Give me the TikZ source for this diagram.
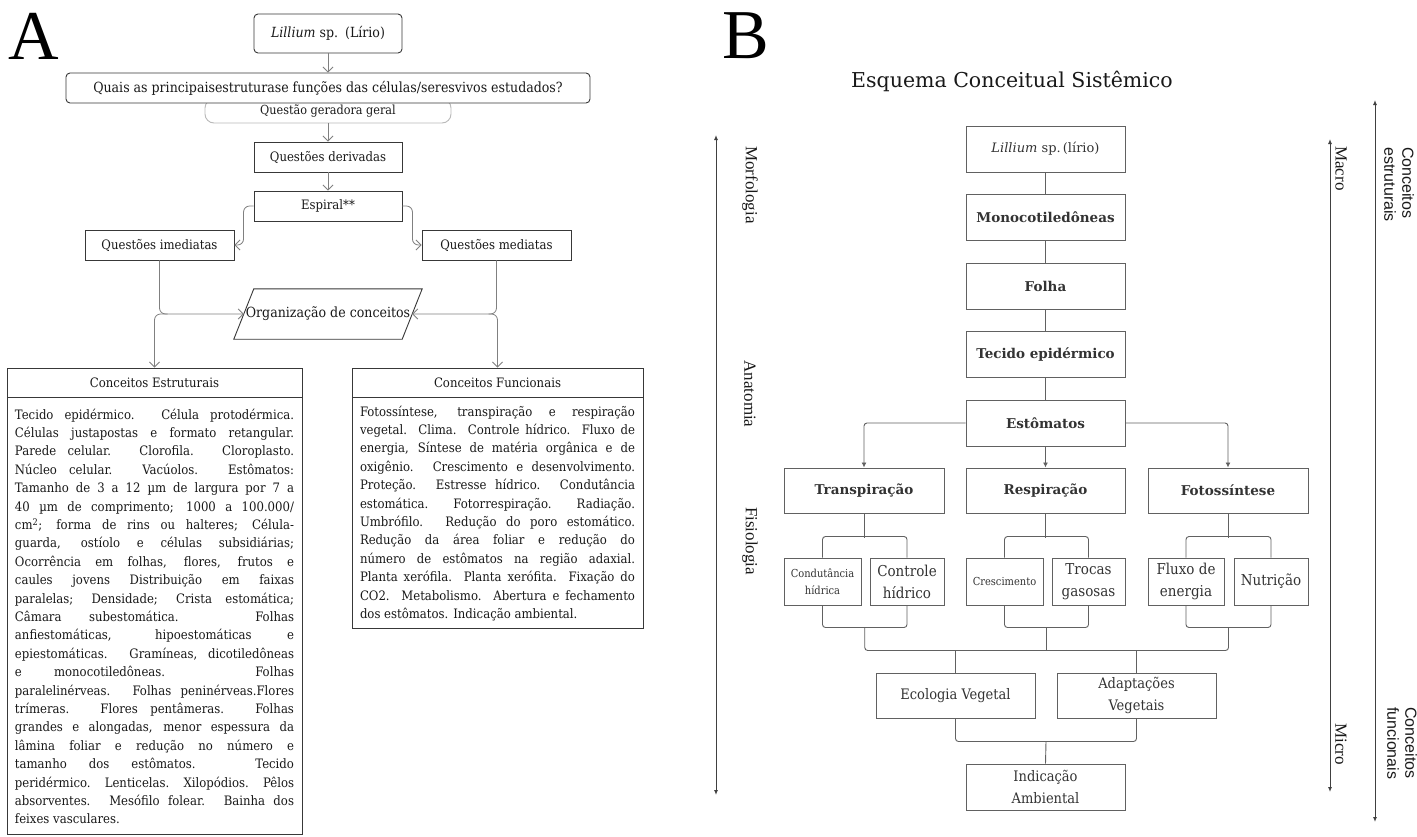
\documentclass[tikz,border=0pt]{standalone}
\usepackage{fontspec}
\setmainfont{DejaVu Serif Condensed}
\newfontfamily\wideserif{DejaVu Serif}
\newfontfamily\timesfont{Liberation Serif}
\newfontfamily\sansfont{Liberation Sans}
\usetikzlibrary{arrows.meta,positioning,calc}
\definecolor{lineA}{gray}{0.5}
\definecolor{edgeA}{gray}{0.22}
\definecolor{edgeB}{gray}{0.38}
\definecolor{inkA}{gray}{0.1}
\definecolor{inkB}{gray}{0.2}
\tikzset{
    boxA/.style = {rectangle, draw=edgeA, line width=0.9pt, inner sep=0pt, text=inkA, align=center, font=\fontsize{13}{15}\selectfont},
    drawA/.style = {draw=edgeA, line width=0.9pt},
    bodyA/.style = {rectangle, draw=edgeA, line width=0.9pt, inner xsep=8pt, inner ysep=4pt, text=inkA, align=justify, font=\fontsize{13}{18.4}\selectfont},
    arrowA/.style = {draw=lineA, line width=0.8pt, rounded corners=6pt, -{Straight Barb[length=5pt,width=10pt]}},
    boxB/.style = {rectangle, draw=edgeB, line width=1pt, minimum width=159pt, minimum height=46pt, inner sep=0pt, text=inkB, align=center, font=\wideserif\bfseries\fontsize{13.5}{16}\selectfont},
    subB/.style = {rectangle, draw=edgeB, line width=1pt, minimum height=47pt, inner sep=0pt, text=inkB, align=center, font=\fontsize{15}{22}\selectfont},
    ecoB/.style = {boxB, minimum height=45pt, font=\fontsize{14.5}{22}\selectfont},
    lineB/.style = {draw=edgeB, line width=0.9pt, rounded corners=3pt},
    arrowB/.style = {lineB, -{Latex[length=5pt,width=5pt]}},
    axis/.style = {draw=black!75, line width=1pt, {Latex[length=5pt,width=4pt]}-{Latex[length=5pt,width=4pt]}},
    axislabel/.style = {rotate=-90, inner sep=0pt, text=inkA, font=\timesfont\fontsize{17}{20}\selectfont},
    sidelabel/.style = {axislabel, align=left, anchor=west, font=\sansfont\fontsize{16}{18}\selectfont}
}
\begin{document}
\begin{tikzpicture}[x=1pt, y=-1pt, node distance=68.5pt]
\useasboundingbox (0,0) rectangle (1417,836);
\fill[white] (0,0) rectangle (1417,836);

% panel A
\node (labA) [inner sep=0pt, font=\timesfont\fontsize{70}{70}\selectfont] at (34,36) {A};
\node (lilA) [boxA, rounded corners=4pt, minimum width=148pt, minimum height=39pt, font=\fontsize{14}{16}\selectfont] at (328,33.5) {\textit{Lillium} sp.\enspace(Lírio)};
\node (ger) [boxA, draw=gray!55, rounded corners=9pt, minimum width=246pt, minimum height=24pt, font=\fontsize{12.5}{15}\selectfont] at (328,111) {Questão geradora geral};
\node (quais) [boxA, fill=white, rounded corners=4pt, minimum width=524pt, minimum height=30pt, font=\fontsize{14}{16}\selectfont] at (328,88) {Quais as principaisestruturase funções das células/seresvivos estudados?};
\node (deriv) [boxA, minimum width=148pt, minimum height=30pt] at (328,157) {Questões derivadas};
\node (esp) [boxA, minimum width=148pt, minimum height=30pt] at (328,206) {Espiral**};
\node (qi) [boxA, minimum width=149pt, minimum height=30pt] at (159.5,245) {Questões imediatas};
\node (qm) [boxA, minimum width=149pt, minimum height=30pt] at (496.5,245) {Questões mediatas};
\node (org) [inner sep=0pt, minimum width=168pt, minimum height=50pt, text=inkA, font=\fontsize{14}{16}\selectfont] at (328,314) {Organização de conceitos};
\draw[drawA] ([xshift=-10pt]org.south west) -- ([xshift=10pt]org.north west) -- ([xshift=10pt]org.north east) -- ([xshift=-10pt]org.south east) -- cycle;

\node (est) [boxA, minimum width=295pt, minimum height=29pt] at (154.5,382.5) {Conceitos Estruturais};
\node (estbody) [bodyA, text width=279pt, minimum height=437pt, below=0pt of est] {Tecido epidérmico. Célula protodérmica.\linebreak
Células justapostas e formato retangular.\linebreak
Parede celular. Clorofila. Cloroplasto.\linebreak
Núcleo celular. Vacúolos. Estômatos:\linebreak
Tamanho de 3 a 12 µm de largura por 7 a\linebreak
40 µm de comprimento; 1000 a 100.000/\linebreak
cm\textsuperscript{2}; forma de rins ou halteres; Célula-\linebreak
guarda, ostíolo e células subsidiárias;\linebreak
Ocorrência em folhas, flores, frutos e\linebreak
caules jovens Distribuição em faixas\linebreak
paralelas; Densidade; Crista estomática;\linebreak
Câmara subestomática. Folhas\linebreak
anfiestomáticas, hipoestomáticas e\linebreak
epiestomáticas. Gramíneas, dicotiledôneas\linebreak
e monocotiledôneas. Folhas\linebreak
paralelinérveas. Folhas peninérveas.Flores\linebreak
trímeras. Flores pentâmeras. Folhas\linebreak
grandes e alongadas, menor espessura da\linebreak
lâmina foliar e redução no número e\linebreak
tamanho dos estômatos. Tecido\linebreak
peridérmico. Lenticelas. Xilopódios. Pêlos\linebreak
absorventes. Mesófilo folear. Bainha dos\linebreak
feixes vasculares.};

\node (fun) [boxA, minimum width=291pt, minimum height=29pt] at (497.5,382.5) {Conceitos Funcionais};
\node (funbody) [bodyA, text width=275pt, minimum height=231pt, below=0pt of fun] {Fotossíntese, transpiração e respiração\linebreak
vegetal. Clima. Controle hídrico. Fluxo de\linebreak
energia, Síntese de matéria orgânica e de\linebreak
oxigênio. Crescimento e desenvolvimento.\linebreak
Proteção. Estresse hídrico. Condutância\linebreak
estomática. Fotorrespiração. Radiação.\linebreak
Umbrófilo. Redução do poro estomático.\linebreak
Redução da área foliar e redução do\linebreak
número de estômatos na região adaxial.\linebreak
Planta xerófila. Planta xerófita. Fixação do\linebreak
CO2. Metabolismo. Abertura e fechamento\linebreak
dos estômatos. Indicação ambiental.};

\coordinate (jl) at (qi.south |- org.west);
\coordinate (jr) at (qm.south |- org.east);
\draw[arrowA] (lilA) -- (quais);
\draw[arrowA] (ger) -- (deriv);
\draw[arrowA] (deriv) -- (esp);
\draw[arrowA] (esp.west) -- ++(-10,0) |- (qi.east);
\draw[arrowA] (esp.east) -- ++(10,0) |- (qm.west);
\draw[arrowA] (qi.south) |- (org.west);
\draw[arrowA] (qm.south) |- (org.east);
\draw[arrowA] ([xshift=8pt]jl) -| (est.north);
\draw[arrowA] ([xshift=-8pt]jr) -| (fun.north);

% panel B
\node (labB) [inner sep=0pt, font=\timesfont\fontsize{70}{70}\selectfont] at (746,36) {B};
\node (title) [inner sep=0pt, text=inkA, font=\wideserif\fontsize{20.5}{24}\selectfont] at (1012,81) {Esquema Conceitual Sistêmico};

\node (lilB) [boxB, font=\wideserif\fontsize{13}{16}\selectfont] at (1045.5,149) {\textit{Lillium} sp.\,(lírio)};
\node (mono) [boxB, below of=lilB] {Monocotiledôneas};
\node (folha) [boxB, below of=mono] {Folha};
\node (tec) [boxB, below of=folha] {Tecido epidérmico};
\node (esto) [boxB, below of=tec] {Estômatos};

\node (transp) [boxB, minimum width=160pt, minimum height=45pt] at (864,490.5) {Transpiração};
\node (resp) [boxB, minimum height=45pt] at (1045.5,490.5) {Respiração};
\node (foto) [boxB, minimum width=160pt, minimum height=45pt] at (1228,490.5) {Fotossíntese};

\node (cond) [subB, minimum width=77pt, font=\fontsize{11}{17}\selectfont] at (822.5,581.5) {Condutância\\hídrica};
\node (ctrl) [subB, minimum width=74pt] at (907,581.5) {Controle\\hídrico};
\node (cresc) [subB, minimum width=77pt, font=\fontsize{11}{17}\selectfont] at (1004.5,581.5) {Crescimento};
\node (troc) [subB, minimum width=73pt] at (1088.5,581.5) {Trocas\\gasosas};
\node (flux) [subB, minimum width=76pt] at (1186,581.5) {Fluxo de\\energia};
\node (nutr) [subB, minimum width=74pt] at (1271,581.5) {Nutrição};

\node (eco) [ecoB] at (955.5,695.5) {Ecologia Vegetal};
\node (adapt) [ecoB] at (1136.5,695.5) {Adaptações\\Vegetais};
\node (ind) [ecoB, minimum height=46pt] at (1045.5,787) {Indicação\\Ambiental};

\draw[lineB] (lilB) -- (mono);
\draw[lineB] (mono) -- (folha);
\draw[lineB] (folha) -- (tec);
\draw[lineB] (tec) -- (esto);
\draw[arrowB] (esto) -- (resp);
\draw[arrowB] (esto.west) -| (transp.north);
\draw[arrowB] (esto.east) -| (foto.north);

\draw[lineB] (transp.south) -- ++(0,24);
\draw[lineB] (cond.north) -- ++(0,-21) -| (ctrl.north);
\draw[lineB] (resp.south) -- ++(0,24);
\draw[lineB] (cresc.north) -- ++(0,-21) -| (troc.north);
\draw[lineB] (foto.south) -- ++(0,24);
\draw[lineB] (flux.north) -- ++(0,-21) -| (nutr.north);

\coordinate (jt) at ($(cond.south)!0.5!(ctrl.south)+(0,22)$);
\coordinate (jm) at ($(cresc.south)!0.5!(troc.south)+(0,22)$);
\coordinate (jf) at ($(flux.south)!0.5!(nutr.south)+(0,22)$);
\draw[lineB] (cond.south) |- (jt) -| (ctrl.south);
\draw[lineB] (cresc.south) |- (jm) -| (troc.south);
\draw[lineB] (flux.south) |- (jf) -| (nutr.south);
\draw[lineB] (jt) -- ++(0,23) -| (jf);
\draw[lineB] (jm) -- ++(0,23);
\draw[lineB] (eco.north) -- ++(0,-23);
\draw[lineB] (adapt.north) -- ++(0,-23);

\coordinate (je) at ($(eco.south)!0.5!(adapt.south)+(0,23)$);
\draw[lineB] (eco.south) |- (je) -| (adapt.south);
\draw[lineB] (je) -- (ind.north);

% scales
\coordinate (lt) at (716,135);
\coordinate (lb) at (716,795);
\coordinate (mt) at (1330,139);
\coordinate (mb) at (1330,792);
\coordinate (ct) at (1375,100);
\coordinate (cb) at (1375,822);
\draw[axis] (lt) -- (lb);
\draw[axis] (mt) -- (mb);
\draw[axis] (ct) -- (cb);
\node (morf) [axislabel] at (750,185) {Morfologia};
\node (anat) [axislabel] at (750,394) {Anatomia};
\node (fisi) [axislabel] at (750,541) {Fisiologia};
\node (macro) [axislabel, anchor=west] at (1341,146) {Macro};
\node (micro) [axislabel, anchor=east] at (1341,765) {Micro};
\node (cest) [sidelabel] at (1399,147) {Conceitos\\estruturais};
\node (cfun) [sidelabel] at (1402,707) {Conceitos\\funcionais};
\end{tikzpicture}
\end{document}
